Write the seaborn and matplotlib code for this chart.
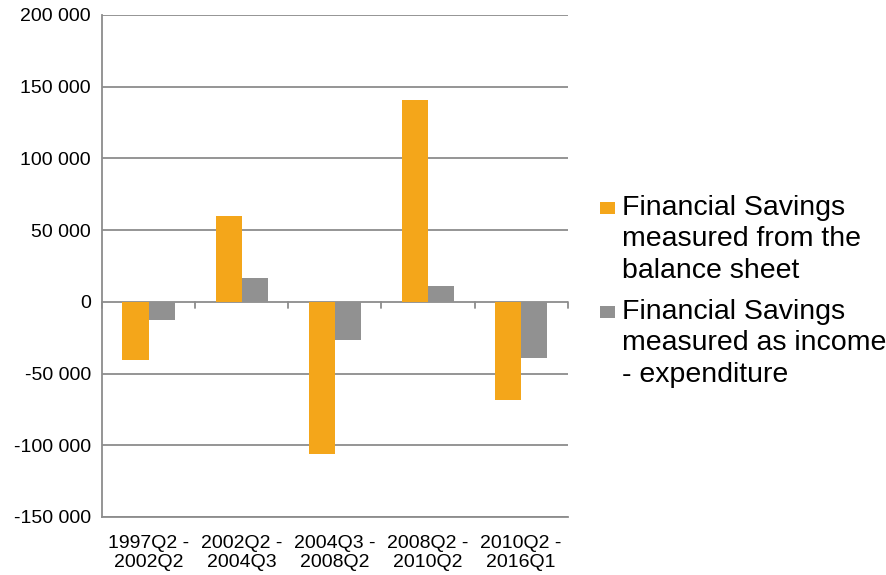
import matplotlib
matplotlib.use("Agg")
import matplotlib.pyplot as plt
from matplotlib.patches import Rectangle
from matplotlib.legend_handler import HandlerPatch
from matplotlib.ticker import FuncFormatter, FixedLocator
import pandas as pd
import seaborn as sns

periods = ["1997Q2 -\n2002Q2", "2002Q2 -\n2004Q3", "2004Q3 -\n2008Q2",
           "2008Q2 -\n2010Q2", "2010Q2 -\n2016Q1"]
balance_sheet = [-40500, 59800, -105800, 140800, -68600]
income_expenditure = [-12900, 16800, -26800, 11200, -39100]
series_names = ["Financial Savings\nmeasured from the\nbalance sheet",
                "Financial Savings\nmeasured as income\n- expenditure"]
y_ticks = [-150000, -100000, -50000, 0, 50000, 100000, 150000, 200000]

colors = ["#F4A61A", "#919191"]
grid_color = "#8C8C8C"

df = pd.DataFrame({
    "period": periods * 2,
    "value": balance_sheet + income_expenditure,
    "series": [series_names[0]] * len(periods) + [series_names[1]] * len(periods),
})

sns.set_style("white")
plt.rcParams["font.family"] = ["Liberation Sans", "DejaVu Sans"]
plt.rcParams["text.color"] = "black"

fig = plt.figure(figsize=(8.87, 5.75), dpi=100)
ax = fig.add_axes([0.115, 0.101, 0.525, 0.873])

sns.barplot(data=df, x="period", y="value", hue="series", palette=colors,
            width=0.56, ax=ax, saturation=1, edgecolor="none", linewidth=0,
            legend=False)

ax.set_ylim(y_ticks[0], y_ticks[-1])
ax.set_xlim(-0.5, len(periods) - 0.5)
ax.set_yticks(y_ticks)
ax.yaxis.set_major_formatter(FuncFormatter(lambda v, p: f"{int(v):,}".replace(",", " ")))
ax.set_xlabel("")
ax.set_ylabel("")

# horizontal gridlines
ax.yaxis.grid(True, color=grid_color, linewidth=1.3)
ax.xaxis.grid(False)
ax.set_axisbelow(True)

for side in ["top", "right"]:
    ax.spines[side].set_visible(False)
ax.spines["left"].set_color(grid_color)
ax.spines["left"].set_linewidth(1.3)
ax.spines["bottom"].set_color(grid_color)
ax.spines["bottom"].set_linewidth(1.3)

ax.tick_params(axis="y", length=5, width=1.3, color=grid_color, labelsize=14,
               labelcolor="black", pad=3)
ax.tick_params(axis="x", length=0, labelsize=14, labelcolor="black", pad=13)
for lbl in ax.get_xticklabels():
    lbl.set_linespacing(1.12)

# category axis drawn along the zero line, with ticks between groups
zero_frac = (0 - y_ticks[0]) / (y_ticks[-1] - y_ticks[0])
sec = ax.secondary_xaxis(zero_frac)
sec.xaxis.set_major_locator(FixedLocator([i - 0.5 for i in range(len(periods) + 1)]))
sec.tick_params(axis="x", direction="in", length=0)
sec.set_xticklabels([])
sec.spines["bottom"].set_visible(False)
sec.spines["top"].set_color(grid_color)
sec.spines["top"].set_linewidth(1.3)
for b in [i - 0.5 for i in range(len(periods) + 1)]:
    ax.plot([b, b], [0, -4500], color=grid_color, linewidth=1.3, clip_on=False,
            zorder=1)

LEG_FS = 20.5
LINE_SP = 1.27


def square_handle(legend, orig_handle, xdescent, ydescent, width, height, fontsize):
    w = 0.52 * fontsize
    h = 0.44 * fontsize
    shift = 1.0 * fontsize * LINE_SP * 0.93
    return Rectangle((-xdescent + width - w, -ydescent + shift + 0.02 * fontsize),
                     w, h)


handles = [Rectangle((0, 0), 1, 1, facecolor=c, edgecolor="none") for c in colors]
leg = fig.legend(handles, series_names, loc="upper left",
                 bbox_to_anchor=(0.674, 0.661), frameon=False, fontsize=LEG_FS,
                 handlelength=0.6, handleheight=0.6, handletextpad=0.25,
                 labelspacing=0.54, borderaxespad=0, borderpad=0,
                 handler_map={Rectangle: HandlerPatch(patch_func=square_handle)})
for t in leg.get_texts():
    t.set_linespacing(LINE_SP)
    t.set_color("black")

fig.savefig("out.png", dpi=100)
